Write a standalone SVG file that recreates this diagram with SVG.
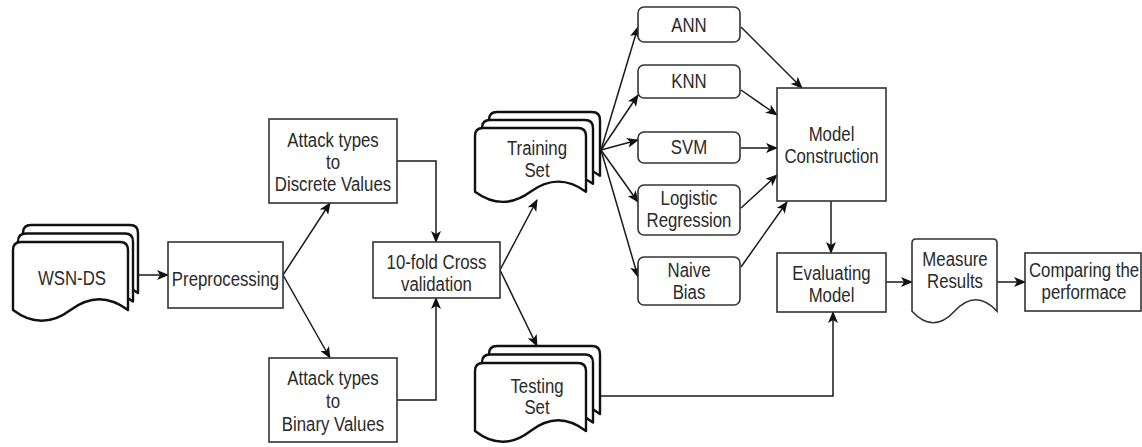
<svg xmlns="http://www.w3.org/2000/svg" xmlns:xlink="http://www.w3.org/1999/xlink" width="1142" height="447" viewBox="0 0 1142 447">
<style>
.bg{fill:#ffffff}
.box{fill:#ffffff;stroke:#333333;stroke-width:1.6}
.doc{fill:#ffffff;stroke:#111111;stroke-width:2.4;stroke-linejoin:round}
.lbl{font-family:"Liberation Sans",Arial,sans-serif;font-size:21px;fill:#2a2a2a;text-anchor:middle}
.con{fill:none;stroke:#1a1a1a;stroke-width:1.5}
</style>
<defs>
<marker id="arr" viewBox="0 0 12 10" refX="11" refY="5" markerWidth="12" markerHeight="10" markerUnits="userSpaceOnUse" orient="auto">
<path d="M0,0 L12,5 L0,10 L3,5 Z" fill="#111111"/>
</marker>
<path id="docWsn" d="M13,250 Q13,242 21,242 H120 Q128,242 128,250 V310 Q99.25,288.4 70.5,310 Q41.75,331.6 13,310 Z"/>
<path id="docTrain" d="M475,136 Q475,128 483,128 H578 Q586,128 586,136 V191.75 Q558.25,171.5 530.5,191.75 Q502.75,212 475,191.75 Z"/>
<path id="docTest" d="M475,371 Q475,363 483,363 H578 Q586,363 586,371 V431 Q558.25,409.4 530.5,431 Q502.75,452.6 475,431 Z"/>
</defs>
<rect class="bg" x="0" y="0" width="1142" height="447"/>

<g id="connectors">
<line class="con" x1="137" y1="275" x2="168" y2="275" marker-end="url(#arr)"/>
<line class="con" x1="283" y1="275" x2="330" y2="203" marker-end="url(#arr)"/>
<line class="con" x1="283" y1="275" x2="330" y2="358" marker-end="url(#arr)"/>
<polyline class="con" points="397,161 436,161 436,242" marker-end="url(#arr)"/>
<polyline class="con" points="397,400 436,400 436,298" marker-end="url(#arr)"/>
<line class="con" x1="500" y1="270" x2="537" y2="200" marker-end="url(#arr)"/>
<line class="con" x1="500" y1="270" x2="537" y2="346" marker-end="url(#arr)"/>
<line class="con" x1="601" y1="150" x2="638" y2="27" marker-end="url(#arr)"/>
<line class="con" x1="601" y1="150" x2="638" y2="95" marker-end="url(#arr)"/>
<line class="con" x1="601" y1="150" x2="638" y2="140" marker-end="url(#arr)"/>
<line class="con" x1="601" y1="150" x2="638" y2="202" marker-end="url(#arr)"/>
<line class="con" x1="601" y1="150" x2="638" y2="277" marker-end="url(#arr)"/>
<line class="con" x1="741" y1="27" x2="802" y2="88" marker-end="url(#arr)"/>
<line class="con" x1="741" y1="90" x2="777" y2="115" marker-end="url(#arr)"/>
<line class="con" x1="741" y1="148" x2="777" y2="148" marker-end="url(#arr)"/>
<line class="con" x1="741" y1="208" x2="777" y2="175" marker-end="url(#arr)"/>
<line class="con" x1="741" y1="267" x2="787" y2="202" marker-end="url(#arr)"/>
<line class="con" x1="831" y1="201" x2="831" y2="253" marker-end="url(#arr)"/>
<polyline class="con" points="600,396 833,396 833,312" marker-end="url(#arr)"/>
<line class="con" x1="886" y1="282" x2="912" y2="282" marker-end="url(#arr)"/>
<line class="con" x1="997" y1="282" x2="1025" y2="282" marker-end="url(#arr)"/>
</g>

<g id="wsn-ds">
<use xlink:href="#docWsn" class="doc" transform="translate(10,-17)"/>
<use xlink:href="#docWsn" class="doc" transform="translate(5,-8.5)"/>
<use xlink:href="#docWsn" class="doc"/>
<text class="lbl" transform="translate(72,285) scale(0.8,1)">WSN-DS</text>
</g>

<g id="preprocessing">
<rect class="box" x="168" y="242" width="115" height="66"/>
<text class="lbl" transform="translate(225.5,286) scale(0.8,1)">Preprocessing</text>
</g>

<g id="discrete">
<rect class="box" x="269" y="119" width="128" height="84"/>
<text class="lbl" transform="translate(333,147) scale(0.8,1)"><tspan x="0">Attack types</tspan><tspan x="0" dy="22">to</tspan><tspan x="0" dy="22">Discrete Values</tspan></text>
</g>

<g id="binary">
<rect class="box" x="269" y="358" width="128" height="84"/>
<text class="lbl" transform="translate(333,385) scale(0.8,1)"><tspan x="0">Attack types</tspan><tspan x="0" dy="23">to</tspan><tspan x="0" dy="23">Binary Values</tspan></text>
</g>

<g id="crossval">
<rect class="box" x="373" y="242" width="127" height="56"/>
<text class="lbl" transform="translate(436.5,269) scale(0.8,1)"><tspan x="0">10-fold Cross</tspan><tspan x="0" dy="22">validation</tspan></text>
</g>

<g id="training">
<use xlink:href="#docTrain" class="doc" transform="translate(14,-16)"/>
<use xlink:href="#docTrain" class="doc" transform="translate(7,-8)"/>
<use xlink:href="#docTrain" class="doc"/>
<text class="lbl" transform="translate(537,155) scale(0.8,1)"><tspan x="0">Training</tspan><tspan x="0" dy="22">Set</tspan></text>
</g>

<g id="testing">
<use xlink:href="#docTest" class="doc" transform="translate(14,-17)"/>
<use xlink:href="#docTest" class="doc" transform="translate(7,-8.5)"/>
<use xlink:href="#docTest" class="doc"/>
<text class="lbl" transform="translate(537,393) scale(0.8,1)"><tspan x="0">Testing</tspan><tspan x="0" dy="21">Set</tspan></text>
</g>

<g id="ann">
<rect class="box" x="638" y="7" width="102" height="35" rx="6"/>
<text class="lbl" transform="translate(689,32) scale(0.8,1)">ANN</text>
</g>

<g id="knn">
<rect class="box" x="638" y="65" width="102" height="33" rx="6"/>
<text class="lbl" transform="translate(689,88) scale(0.8,1)">KNN</text>
</g>

<g id="svm">
<rect class="box" x="638" y="132" width="102" height="31" rx="6"/>
<text class="lbl" transform="translate(689,154) scale(0.8,1)">SVM</text>
</g>

<g id="logistic">
<rect class="box" x="638" y="185" width="102" height="50" rx="6"/>
<text class="lbl" transform="translate(689,205) scale(0.8,1)"><tspan x="0">Logistic</tspan><tspan x="0" dy="22">Regression</tspan></text>
</g>

<g id="naive">
<rect class="box" x="638" y="257" width="102" height="48" rx="6"/>
<text class="lbl" transform="translate(689,277) scale(0.8,1)"><tspan x="0">Naive</tspan><tspan x="0" dy="22">Bias</tspan></text>
</g>

<g id="model-construction">
<rect class="box" x="777" y="88" width="109" height="113"/>
<text class="lbl" transform="translate(831.5,141) scale(0.8,1)"><tspan x="0">Model</tspan><tspan x="0" dy="22">Construction</tspan></text>
</g>

<g id="evaluating">
<rect class="box" x="777" y="253" width="109" height="59"/>
<text class="lbl" transform="translate(831.5,280) scale(0.8,1)"><tspan x="0">Evaluating</tspan><tspan x="0" dy="22">Model</tspan></text>
</g>

<g id="measure">
<path class="box" d="M912,243 Q912,239 916,239 H993 Q997,239 997,243 V311.25 Q975.75,288.3 954.5,311.25 Q933.25,334.2 912,311.25 Z"/>
<text class="lbl" transform="translate(955,266) scale(0.8,1)"><tspan x="0">Measure</tspan><tspan x="0" dy="22">Results</tspan></text>
</g>

<g id="comparing">
<rect class="box" x="1025" y="253" width="116" height="58"/>
<text class="lbl" transform="translate(1084,277) scale(0.8,1)"><tspan x="0">Comparing the</tspan><tspan x="0" dy="22">performace</tspan></text>
</g>
</svg>
